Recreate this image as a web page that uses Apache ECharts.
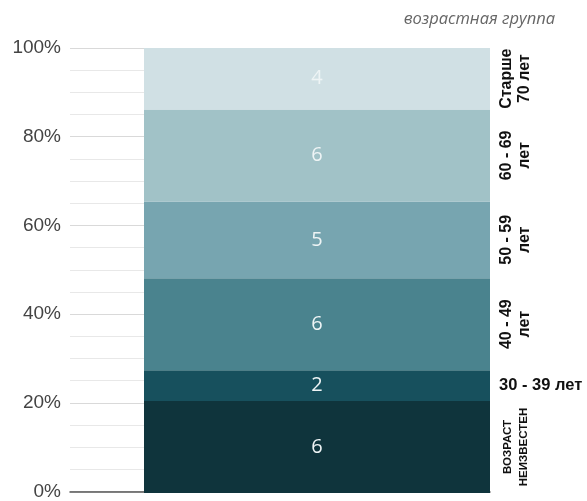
<!DOCTYPE html>
<html>
<head>
<meta charset="utf-8">
<script src="https://cdn.jsdelivr.net/npm/echarts@6/dist/echarts.min.js"></script>
<style>
html,body{margin:0;padding:0;background:#fff;}
#c{width:587px;height:501px;}
</style>
</head>
<body>
<div id="c"></div>
<script>
// Data (bottom to top of the stacked bar)
const groups = ['ВОЗРАСТ\nНЕИЗВЕСТЕН', '30 - 39 лет', '40 - 49\nлет', '50 - 59\nлет', '60 - 69\nлет', 'Старше\n70 лет'];
const counts = [6, 2, 6, 5, 6, 4];
const colors = ['#0f343c', '#17505d', '#4a838e', '#77a5b0', '#a1c2c7', '#d0e0e4'];
const yTicks = [0, 20, 40, 60, 80, 100];
const titleText = 'возрастная группа';

const total = counts.reduce((a, b) => a + b, 0);
const pct = counts.map(v => v / total * 100);

const series = [];
groups.forEach((g, i) => {
  series.push({
    type: 'bar', stack: 'main', xAxisIndex: 1, yAxisIndex: 1,
    barWidth: '100%',
    data: [pct[i]],
    itemStyle: { color: colors[i] },
    label: {
      show: true, position: 'inside',
      formatter: () => String(counts[i]),
      color: '#eef4f5', fontFamily: 'Open Sans', fontSize: 20, fontWeight: 500
    },
    silent: true
  });
  const horiz = g.indexOf('\n') < 0;
  const small = i === 0;
  series.push({
    type: 'bar', stack: 'lab', xAxisIndex: 2, yAxisIndex: 2,
    barWidth: '100%',
    data: [pct[i]],
    itemStyle: { color: 'rgba(0,0,0,0)' },
    label: horiz ? {
      show: true, position: 'insideLeft', distance: 1,
      formatter: () => g, color: '#111', fontWeight: 'bold',
      fontFamily: 'Liberation Sans, Arial', fontSize: 16.5
    } : {
      show: true, position: 'inside', rotate: 90,
      align: 'center', verticalAlign: 'middle',
      formatter: () => g, color: '#111', fontWeight: 'bold',
      fontFamily: 'Liberation Sans, Arial',
      fontSize: small ? 11.5 : 16, lineHeight: small ? 16 : 18
    },
    silent: true
  });
});

const chart = echarts.init(document.getElementById('c'), null, { renderer: 'canvas' });
chart.setOption({
  animation: false,
  title: {
    text: titleText, right: 27, top: 6,
    textStyle: { fontFamily: 'Open Sans', fontStyle: 'italic', fontWeight: 'normal', fontSize: 16.5, color: '#666' }
  },
  grid: [
    { left: 70, right: 97, top: 48, bottom: 8 },
    { left: 144, right: 97, top: 48, bottom: 8 },
    { left: 498, right: 53, top: 48, bottom: 8 }
  ],
  xAxis: [
    { type: 'category', gridIndex: 0, data: [''], axisTick: { show: false }, axisLabel: { show: false },
      axisLine: { show: true, lineStyle: { color: '#555', width: 1.5 } } },
    { type: 'category', gridIndex: 1, data: [''], show: false },
    { type: 'category', gridIndex: 2, data: [''], show: false }
  ],
  yAxis: [
    { type: 'value', gridIndex: 0, min: yTicks[0], max: yTicks[yTicks.length - 1], interval: 20,
      axisLine: { show: false }, axisTick: { show: false },
      axisLabel: { formatter: '{value}%', margin: 9, color: '#444', fontFamily: 'Liberation Sans, Arial', fontSize: 19 },
      splitLine: { show: true, lineStyle: { color: '#d9d9d9', width: 1.2 } },
      minorTick: { show: false, splitNumber: 4 },
      minorSplitLine: { show: true, lineStyle: { color: '#e8e8e8', width: 1 } } },
    { type: 'value', gridIndex: 1, min: 0, max: 100, show: false, splitLine: { show: false } },
    { type: 'value', gridIndex: 2, min: 0, max: 100, show: false, splitLine: { show: false } }
  ],
  series: series
});
</script>
</body>
</html>
